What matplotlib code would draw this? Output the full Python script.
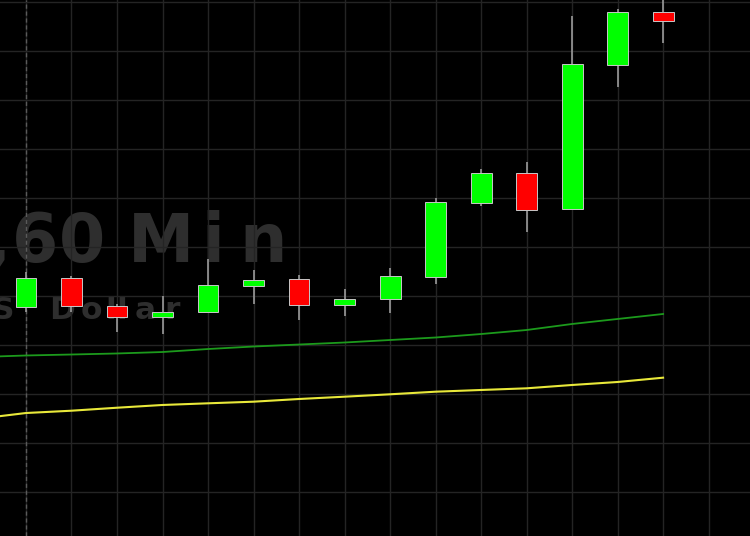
import numpy as np
import matplotlib.pyplot as plt

# hourly candles, oldest first (index 0 sits on the dashed line)
opens  = [1.08378, 1.08437, 1.08380, 1.08357, 1.08367, 1.08420, 1.08435, 1.08382,
          1.08394, 1.08439, 1.08590, 1.08651, 1.08578, 1.08871, 1.08980]
highs  = [1.08449, 1.08441, 1.08384, 1.08400, 1.08476, 1.08453, 1.08443, 1.08414,
          1.08457, 1.08600, 1.08659, 1.08673, 1.08971, 1.08986, 1.09014]
lows   = [1.08367, 1.08367, 1.08327, 1.08322, 1.08367, 1.08384, 1.08351, 1.08359,
          1.08365, 1.08424, 1.08584, 1.08531, 1.08578, 1.08827, 1.08916]
closes = [1.08437, 1.08380, 1.08357, 1.08367, 1.08422, 1.08433, 1.08382, 1.08394,
          1.08441, 1.08592, 1.08651, 1.08576, 1.08873, 1.08980, 1.08961]

# moving averages, starting one bar before the first candle
ma_fast = [1.082755, 1.082786, 1.082806, 1.082827, 1.082857, 1.082918, 1.082969, 1.083010,
           1.083051, 1.083102, 1.083153, 1.083224, 1.083306, 1.083429, 1.083531, 1.083633]
ma_slow = [1.081500, 1.081612, 1.081659, 1.081720, 1.081776, 1.081810, 1.081843, 1.081898,
           1.081945, 1.081994, 1.082047, 1.082082, 1.082116, 1.082184, 1.082245, 1.082333]

W, H = 750, 536

fig = plt.figure(figsize=(W / 100, H / 100), dpi=100, facecolor='black')
ax = fig.add_axes([0, 0, 1, 1])
ax.set_facecolor('black')

ax.set_xlim(-0.571, 15.91)
ax.set_ylim(1.079102, 1.090041)
ax.set_xticks(np.arange(0, 16))
ax.set_yticks(np.arange(1.080, 1.0905, 0.001))
ax.set_axisbelow(True)
ax.grid(True, color='#242424', lw=1)
ax.tick_params(left=False, bottom=False, labelleft=False, labelbottom=False)
for s in ax.spines.values():
    s.set_visible(False)
ax.axvline(0, color='#5a5a5a', lw=1, ls=(0, (3, 2)), zorder=1)


# watermark: the terminal draws it wide and loosely spaced, so place letter by letter
def watermark(chars, centers, baseline, size):
    for ch, cx in zip(chars, centers):
        if ch == ' ':
            continue
        ax.text(cx / W, 1 - baseline / H, ch, transform=ax.transAxes,
                ha='center', va='baseline', fontsize=size, fontweight='bold',
                family='DejaVu Sans', color='#2e2e2e', zorder=0.2)


watermark(',60Min', [-2, 35, 82, 161, 213, 263], 262, 48)
watermark('S Dollar', [3, 30, 62, 91, 111, 122, 145, 172], 319, 22.5)

x = np.arange(len(opens))
o = np.array(opens)
c = np.array(closes)
up = c >= o
colors = np.where(up, '#00ff00', '#ff0000')

ax.vlines(x, lows, highs, color='#9a9a9a', lw=1.2, zorder=2)
ax.bar(x, np.abs(c - o), bottom=np.minimum(o, c), width=0.46, color=colors,
       edgecolor='#c8c8c8', lw=0.7, zorder=3)

xm = np.arange(-1, len(opens))
ax.plot(xm, ma_fast, color='#1c9a1c', lw=1.3, zorder=2)
ax.plot(xm, ma_slow, color='#e8e83a', lw=1.5, zorder=2)

fig.savefig('out.png', dpi=100, facecolor='black')
